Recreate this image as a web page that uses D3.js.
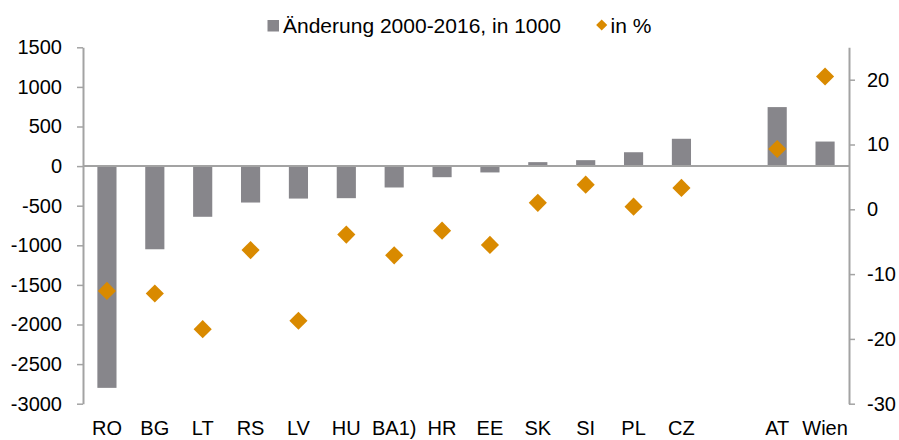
<!DOCTYPE html>
<html>
<head>
<meta charset="utf-8">
<script src="https://cdn.jsdelivr.net/npm/d3@7"></script>
<style>
  body { margin: 0; background: #fff; }
  svg text { font-family: "Liberation Sans", Arial, sans-serif; fill: #000; }
</style>
</head>
<body>
<div id="chart"></div>
<script>
// data
var categories = ["RO", "BG", "LT", "RS", "LV", "HU", "BA1)", "HR", "EE", "SK", "SI", "PL", "CZ", "", "AT", "Wien"];
var changeThousand = [-2800, -1050, -640, -460, -410, -405, -270, -140, -80, 50, 75, 175, 345, null, 745, 310];
var changePercent = [-12.6, -13.0, -18.5, -6.3, -17.2, -3.9, -7.1, -3.3, -5.5, 1.0, 3.8, 0.4, 3.3, null, 9.3, 20.5];
var leftTicks = [-3000, -2500, -2000, -1500, -1000, -500, 0, 500, 1000, 1500];
var rightTicks = [-30, -20, -10, 0, 10, 20];
var legendLabels = ["Änderung 2000-2016, in 1000", "in %"];

var svgWidth = 899;
var svgHeight = 440;

var margin = { top: 47.3, right: 50, bottom: 36.3, left: 83 };
var width = svgWidth - margin.left - margin.right;
var height = svgHeight - margin.top - margin.bottom;

var barColor = "#87868b";
var dotColor = "#d98a00";
var axisColor = "#a3a3a3";
var fontSize = "20px";

var svg = d3.select("#chart")
    .append("svg")
    .attr("width", svgWidth)
    .attr("height", svgHeight);

var chartGroup = svg.append("g")
    .attr("transform", `translate(${margin.left}, ${margin.top})`);

var xScale = d3.scaleBand()
    .domain(d3.range(categories.length))
    .range([0, width])
    .paddingInner(0.6)
    .paddingOuter(0.3);

var yLeft = d3.scaleLinear()
    .domain([-3000, 1500])
    .range([height, 0]);

var yRight = d3.scaleLinear()
    .domain([-30, 25])
    .range([height, 0]);

// bars
chartGroup.selectAll("rect.bar")
    .data(changeThousand.map((v, i) => ({ v: v, i: i })).filter(d => d.v !== null))
    .enter()
    .append("rect")
    .attr("class", "bar")
    .attr("x", d => xScale(d.i))
    .attr("width", xScale.bandwidth())
    .attr("y", d => yLeft(Math.max(0, d.v)))
    .attr("height", d => Math.abs(yLeft(d.v) - yLeft(0)))
    .attr("fill", barColor);

// zero line
chartGroup.append("line")
    .attr("x1", 0)
    .attr("x2", width)
    .attr("y1", yLeft(0))
    .attr("y2", yLeft(0))
    .attr("stroke", axisColor)
    .attr("stroke-width", 2);

// axes
var fmt = d => String(d);
var leftAxis = d3.axisLeft(yLeft).tickValues(leftTicks).tickFormat(fmt)
    .tickSize(6).tickSizeOuter(0).tickPadding(15);
var rightAxis = d3.axisRight(yRight).tickValues(rightTicks).tickFormat(fmt)
    .tickSize(6).tickSizeOuter(0).tickPadding(12);

var gl = chartGroup.append("g").call(leftAxis);
var gr = chartGroup.append("g").attr("transform", `translate(${width}, 0)`).call(rightAxis);

[gl, gr].forEach(function (g) {
    g.select(".domain").attr("stroke", axisColor).attr("stroke-width", 2);
    g.selectAll(".tick line").attr("stroke", axisColor).attr("stroke-width", 1.5);
    g.selectAll(".tick text")
        .attr("font-size", fontSize)
        .attr("font-family", "Liberation Sans, Arial, sans-serif")
        .attr("fill", "#000");
});

// diamonds
var diamond = d3.symbol().type(d3.symbolSquare).size(165);
chartGroup.selectAll("path.dot")
    .data(changePercent.map((v, i) => ({ v: v, i: i })).filter(d => d.v !== null))
    .enter()
    .append("path")
    .attr("class", "dot")
    .attr("d", diamond)
    .attr("transform", d => `translate(${xScale(d.i) + xScale.bandwidth() / 2}, ${yRight(d.v)}) rotate(45)`)
    .attr("fill", dotColor);

// category labels
chartGroup.selectAll("text.cat")
    .data(categories)
    .enter()
    .append("text")
    .attr("class", "cat")
    .attr("x", (d, i) => xScale(i) + xScale.bandwidth() / 2)
    .attr("y", height + 31)
    .attr("text-anchor", "middle")
    .attr("font-size", fontSize)
    .text(d => d);

// legend
var legend = svg.append("g");
legend.append("rect")
    .attr("x", 267.5)
    .attr("y", 20)
    .attr("width", 11.5)
    .attr("height", 11.5)
    .attr("fill", barColor);
legend.append("text")
    .attr("x", 283)
    .attr("y", 33)
    .attr("font-size", "21px")
    .text(legendLabels[0]);
legend.append("path")
    .attr("d", d3.symbol().type(d3.symbolSquare).size(62))
    .attr("transform", "translate(601.7, 25) rotate(45)")
    .attr("fill", dotColor);
legend.append("text")
    .attr("x", 610.5)
    .attr("y", 33)
    .attr("font-size", "21px")
    .text(legendLabels[1]);
</script>
</body>
</html>
